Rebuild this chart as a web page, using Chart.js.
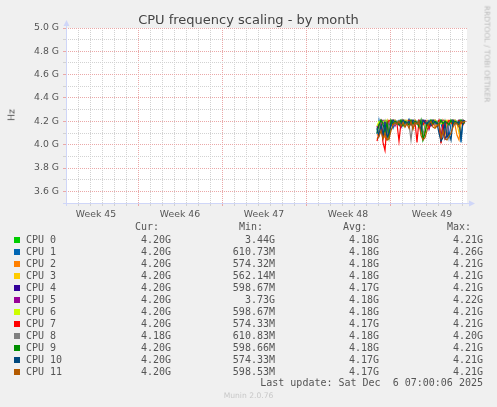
<!DOCTYPE html>
<html>
<head>
<meta charset="utf-8">
<script src="https://cdn.jsdelivr.net/npm/chart.js@4.4.1/dist/chart.umd.min.js"></script>
<style>
body { margin: 0; background: #f0f0f0; }
#wrap { position: relative; width: 497px; height: 407px; overflow: hidden; }
#chart { position: absolute; left: 0; top: 0; }
.t { position: absolute; white-space: pre; color: #555; }
.mono { font: 10px 'DejaVu Sans Mono', monospace; line-height: 12px; }
.r { text-align: right; width: 90px; }
.box { position: absolute; width: 6px; height: 6px; }
</style>
</head>
<body>
<div id="wrap">
<canvas id="chart" width="497" height="407"></canvas>
<div class="t" style="left:0;top:12px;width:497px;text-align:center;font:13px 'DejaVu Sans';line-height:15px;color:#444">CPU frequency scaling - by month</div>
<div class="t" style="left:11px;top:115px;transform:translate(-50%,-50%) rotate(-90deg);font:9.3px 'DejaVu Sans'">Hz</div>
<div class="t" style="left:487px;top:54px;transform:translate(-50%,-50%) rotate(90deg);font:7.5px 'DejaVu Sans';color:#bbb">RRDTOOL / TOBI OETIKER</div>
<div class="t" style="left:0;top:391px;width:497px;text-align:center;font:7.6px 'DejaVu Sans';line-height:10px;color:#c8c8c8">Munin 2.0.76</div>
<div id="legend"></div>
</div>
<script>
// time axis in hours since the left edge of the graph
const times = [622, 626, 630, 634, 638, 642, 646, 650, 654, 658, 662, 666, 670, 674, 678,
    682, 686, 690, 694, 698, 702, 706, 710, 714, 718, 722, 726, 730, 734, 738,
    742, 746, 750, 754, 758, 762, 766, 770, 774, 778, 782, 786, 790, 794, 798];

const weekLines = [144, 312, 480, 648];
const weekLabelPos = [60, 228, 396, 564, 732];
const weekLabels = ["Week 45", "Week 46", "Week 47", "Week 48", "Week 49"];

// GHz per CPU, 4h samples
const cpu0 = [4.12,4.19,4.21,4.19,4.18, 4.10,4.19,4.21,4.20,4.18, 4.20,4.19,4.21,4.19,4.18, 4.20,4.19,4.21,4.19,4.18, 4.20,4.19,4.20,4.05,4.12, 4.20,4.19,4.21,4.19,4.18, 4.20,4.19,4.21,4.19,4.18, 4.20,4.19,4.21,4.19,4.18, 4.20,4.19,4.21,4.19,4.20];
const cpu1 = [4.09,4.21,4.12,4.20,4.19, 4.18,4.08,4.18,4.14,4.19, 4.19,4.21,4.18,4.20,4.19, 4.19,4.22,4.18,4.20,4.19, 4.19,4.21,4.18,4.20,4.19, 4.19,4.21,4.18,4.20,4.19, 4.19,4.21,4.18,4.12,4.19, 4.19,4.06,4.18,4.20,4.19, 4.19,4.21,4.02,4.20,4.20];
const cpu2 = [4.08,4.10,4.19,4.09,4.06, 4.04,4.08,4.19,4.21,4.17, 4.18,4.20,4.19,4.21,4.17, 4.18,4.20,4.19,4.15,4.17, 4.18,4.20,4.10,4.08,4.10, 4.18,4.20,4.19,4.21,4.15, 4.18,4.20,4.02,4.19,4.08, 4.18,4.20,4.19,4.21,4.17, 4.08,4.04,4.19,4.21,4.20];
const cpu3 = [4.15,4.18,4.20,4.19,4.17, 4.21,4.08,4.20,4.19,4.21, 4.18,4.20,4.19,4.21,4.16, 4.21,4.18,4.20,4.19,4.21, 4.18,4.20,4.19,4.21,4.18, 4.21,4.18,4.20,4.19,4.21, 4.17,4.20,4.19,4.21,4.18, 4.21,4.18,4.20,4.19,4.21, 4.18,4.10,4.19,4.21,4.20];
const cpu4 = [4.14,4.17,4.20,4.06,4.15, 4.08,4.17,4.20,4.18,4.21, 4.19,4.17,4.15,4.18,4.21, 4.19,4.17,4.20,4.18,4.21, 4.19,4.17,4.20,4.18,4.21, 4.19,4.17,4.16,4.18,4.21, 4.19,4.17,4.05,4.18,4.05, 4.08,4.17,4.20,4.18,4.21, 4.19,4.17,4.20,4.18,4.20];
const cpu5 = [4.15,4.18,4.19,4.21,4.18, 4.20,4.18,4.19,4.21,4.16, 4.20,4.18,4.15,4.21,4.18, 4.20,4.18,4.19,4.21,4.18, 4.20,4.18,4.19,4.21,4.18, 4.20,4.13,4.19,4.21,4.18, 4.20,4.18,4.19,4.21,4.18, 4.20,4.18,4.19,4.21,4.18, 4.20,4.18,4.19,4.21,4.20];
const cpu6 = [4.16,4.20,4.18,4.19,4.21, 4.19,4.20,4.18,4.19,4.21, 4.18,4.20,4.18,4.19,4.21, 4.19,4.20,4.18,4.19,4.21, 4.19,4.20,4.18,4.19,4.14, 4.19,4.20,4.18,4.19,4.21, 4.19,4.20,4.18,4.19,4.21, 4.19,4.20,4.18,4.19,4.21, 4.19,4.20,4.18,4.19,4.20];
const cpu7 = [4.03,4.10,4.19,4.02,3.95, 4.18,4.21,4.19,4.17,4.20, 4.18,4.03,4.19,4.17,4.20, 4.18,4.21,4.19,4.17,4.20, 4.02,4.21,4.19,4.17,4.20, 4.18,4.14,4.19,4.17,4.20, 4.18,4.21,4.01,4.17,4.20, 4.18,4.21,4.19,4.17,4.20, 4.18,4.21,4.19,4.17,4.20];
const cpu8 = [4.14,4.10,4.21,4.19,4.17, 4.08,4.18,4.21,4.19,4.17, 4.20,4.18,4.21,4.19,4.17, 4.20,4.18,4.04,4.19,4.17, 4.20,4.18,4.21,4.08,4.17, 4.20,4.18,4.21,4.19,4.17, 4.20,4.18,4.21,4.19,4.17, 4.10,4.18,4.21,4.19,4.17, 4.20,4.18,4.21,4.19,4.18];
const cpu9 = [4.10,4.17,4.21,4.18,4.10, 4.19,4.06,4.21,4.18,4.20, 4.19,4.17,4.21,4.16,4.20, 4.19,4.17,4.21,4.18,4.20, 4.19,4.15,4.21,4.04,4.10, 4.19,4.17,4.21,4.18,4.20, 4.19,4.17,4.21,4.18,4.20, 4.19,4.17,4.21,4.18,4.20, 4.19,4.17,4.21,4.18,4.20];
const cpu10 = [4.14,4.08,4.17,4.08,4.19, 4.06,4.10,4.17,4.21,4.19, 4.18,4.20,4.17,4.21,4.19, 4.18,4.20,4.17,4.21,4.19, 4.18,4.20,4.12,4.21,4.19, 4.18,4.20,4.17,4.21,4.19, 4.18,4.10,4.03,4.06,4.19, 4.06,4.10,4.04,4.21,4.19, 4.18,4.20,4.06,4.21,4.20];
const cpu11 = [4.05,4.07,4.12,4.05,4.10, 4.04,4.05,4.12,4.17,4.19, 4.18,4.20,4.16,4.19,4.15, 4.18,4.14,4.20,4.13,4.19, 4.18,4.20,4.08,4.04,4.06, 4.12,4.18,4.20,4.15,4.14, 4.16,4.18,4.06,4.12,4.05, 4.04,4.07,4.10,4.15,4.19, 4.18,4.15,4.20,4.19,4.20];

const cpuNames = ["CPU 0", "CPU 1", "CPU 2", "CPU 3", "CPU 4", "CPU 5", "CPU 6", "CPU 7", "CPU 8", "CPU 9", "CPU 10", "CPU 11"];
const cpuColors = ["#00cc00", "#0066b3", "#ff8000", "#ffcc00", "#330099", "#990099", "#ccff00", "#ff0000", "#808080", "#008f00", "#00487d", "#b35a00"];
const curVals = ["4.20G", "4.20G", "4.20G", "4.20G", "4.20G", "4.20G", "4.20G", "4.20G", "4.18G", "4.20G", "4.20G", "4.20G"];
const minVals = ["3.44G", "610.73M", "574.32M", "562.14M", "598.67M", "3.73G", "598.67M", "574.33M", "610.83M", "598.66M", "574.33M", "598.53M"];
const avgVals = ["4.18G", "4.18G", "4.18G", "4.18G", "4.17G", "4.18G", "4.18G", "4.17G", "4.18G", "4.18G", "4.17G", "4.17G"];
const maxVals = ["4.21G", "4.26G", "4.21G", "4.21G", "4.21G", "4.22G", "4.21G", "4.21G", "4.20G", "4.21G", "4.21G", "4.21G"];

const series = [cpu0, cpu1, cpu2, cpu3, cpu4, cpu5, cpu6, cpu7, cpu8, cpu9, cpu10, cpu11];

const redGrid = "#eaa8a8";
const grayGrid = "#d2d2d2";
const axisColor = "#cfd6f8";

Chart.defaults.font.family = "'DejaVu Sans', sans-serif";
Chart.defaults.color = "#555";

let munAxes = {
    id: 'munAxes',
    beforeDraw: (chart) => {
        const {ctx, chartArea: a} = chart;
        ctx.save();
        ctx.fillStyle = '#ffffff';
        ctx.fillRect(a.left, a.top, a.right - a.left, a.bottom - a.top);
        ctx.restore();
    },
    afterDatasetsDraw: (chart) => {
        const {ctx, chartArea: a} = chart;
        ctx.save();
        ctx.strokeStyle = axisColor;
        ctx.fillStyle = axisColor;
        ctx.lineWidth = 1;
        ctx.beginPath();
        ctx.moveTo(a.left + 0.5, a.bottom + 3);
        ctx.lineTo(a.left + 0.5, a.top - 5);
        ctx.moveTo(a.left - 3, a.bottom + 0.5);
        ctx.lineTo(a.right + 3, a.bottom + 0.5);
        ctx.stroke();
        // arrow heads
        ctx.beginPath();
        ctx.moveTo(a.left + 0.5, a.top - 8);
        ctx.lineTo(a.left - 2.5, a.top - 2);
        ctx.lineTo(a.left + 3.5, a.top - 2);
        ctx.fill();
        ctx.beginPath();
        ctx.moveTo(a.right + 8, a.bottom + 0.5);
        ctx.lineTo(a.right + 2, a.bottom - 2.5);
        ctx.lineTo(a.right + 2, a.bottom + 3.5);
        ctx.fill();
        ctx.restore();
    }
};

let datasets = [];
for (let i = 0; i < series.length; i++) {
    datasets.push({
        label: cpuNames[i],
        data: series[i].map((v, k) => ({x: times[k], y: v})),
        borderColor: cpuColors[i],
        borderWidth: 1.2,
        pointRadius: 0,
        tension: 0,
        fill: false,
        order: series.length - 1 - i,
    });
}

new Chart(document.getElementById('chart'), {
    type: 'line',
    data: {datasets: datasets},
    options: {
        responsive: false,
        animation: false,
        layout: {padding: {top: 28, right: 30, bottom: 184, left: 0}},
        plugins: {legend: {display: false}, tooltip: {enabled: false}, title: {display: false}},
        scales: {
            x: {
                type: 'linear',
                min: 0,
                max: 802,
                afterBuildTicks: (scale) => {
                    let t = [];
                    for (let h = 24; h < 802; h += 24) t.push(h);
                    weekLabelPos.forEach(p => t.push(p));
                    t.sort((a, b) => a - b);
                    scale.ticks = t.map(v => ({value: v}));
                },
                afterFit: (scale) => { scale.height = 20; },
                border: {display: false, dash: [1, 1]},
                grid: {
                    tickLength: 3,
                    color: (c) => {
                        const v = c.tick ? c.tick.value : null;
                        if (weekLines.includes(v)) return redGrid;
                        if (weekLabelPos.includes(v)) return 'rgba(0,0,0,0)';
                        return grayGrid;
                    },
                },
                ticks: {
                    autoSkip: false,
                    maxRotation: 0,
                    minRotation: 0,
                    padding: 3,
                    font: {size: 9.3},
                    color: '#555',
                    callback: (v) => {
                        const k = weekLabelPos.indexOf(v);
                        return k >= 0 ? weekLabels[k] : '';
                    },
                },
            },
            y: {
                type: 'linear',
                min: 3.5,
                max: 5.0,
                afterBuildTicks: (scale) => {
                    let t = [];
                    for (let n = 35; n <= 50; n++) t.push({value: n / 10});
                    scale.ticks = t;
                },
                afterFit: (scale) => { scale.width = 66; },
                border: {display: false, dash: [1, 1]},
                grid: {
                    tickLength: 3,
                    color: (c) => {
                        if (!c.tick) return grayGrid;
                        const n = Math.round(c.tick.value * 10);
                        return n % 2 === 0 ? redGrid : grayGrid;
                    },
                },
                ticks: {
                    autoSkip: false,
                    padding: 4,
                    font: {size: 9.3},
                    color: '#555',
                    callback: (v) => {
                        const n = Math.round(v * 10);
                        return n % 2 === 0 ? (n / 10).toFixed(1) + ' G' : '';
                    },
                },
            },
        },
    },
    plugins: [munAxes],
});

// legend table under the graph
const legend = document.getElementById('legend');
function addText(txt, left, top, cls) {
    const d = document.createElement('div');
    d.className = 't mono ' + (cls || '');
    d.style.left = left + 'px';
    d.style.top = top + 'px';
    d.textContent = txt;
    legend.appendChild(d);
}
const colRight = [171, 275, 379, 483];
const headers = ["Cur:", "Min:", "Avg:", "Max:"];
headers.forEach((h, k) => addText(h, colRight[k] - 12 - 90, 221, 'r'));
for (let i = 0; i < cpuNames.length; i++) {
    const top = 234 + 12 * i;
    const b = document.createElement('div');
    b.className = 'box';
    b.style.left = '14px';
    b.style.top = (237 + 12 * i) + 'px';
    b.style.background = cpuColors[i];
    legend.appendChild(b);
    addText(cpuNames[i], 26, top);
    [curVals[i], minVals[i], avgVals[i], maxVals[i]].forEach((v, k) => addText(v, colRight[k] - 90, top, 'r'));
}
const upd = document.createElement('div');
upd.className = 't mono';
upd.style.right = (497 - 483) + 'px';
upd.style.top = '377px';
upd.textContent = 'Last update: Sat Dec  6 07:00:06 2025';
legend.appendChild(upd);
</script>
</body>
</html>
